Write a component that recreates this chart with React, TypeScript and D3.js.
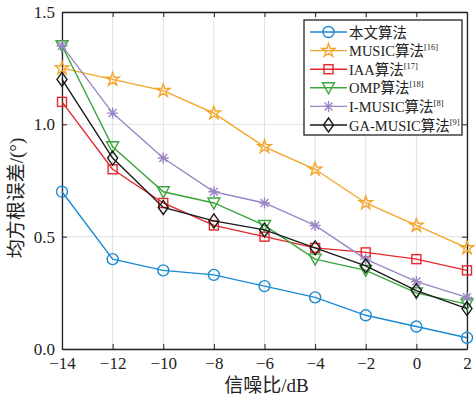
import React, { useEffect, useRef } from "react";
import * as d3 from "d3";

const snr = [-14, -12, -10, -8, -6, -4, -2, 0, 2];
const proposed = [0.7, 0.4, 0.35, 0.33, 0.28, 0.23, 0.15, 0.1, 0.05];
const music = [1.25, 1.2, 1.15, 1.05, 0.9, 0.8, 0.65, 0.55, 0.45];
const iaa = [1.1, 0.8, 0.65, 0.55, 0.5, 0.45, 0.43, 0.4, 0.35];
const omp = [1.35, 0.9, 0.7, 0.65, 0.55, 0.4, 0.35, 0.25, 0.2];
const iMusic = [1.35, 1.05, 0.85, 0.7, 0.65, 0.55, 0.4, 0.3, 0.23];
const gaMusic = [1.2, 0.85, 0.63, 0.57, 0.53, 0.45, 0.37, 0.26, 0.18];
const yTicks = [0, 0.5, 1.0, 1.5];

const series = [
  { name: "本文算法", ref: "", values: proposed, color: "#1b8ad3", marker: "circle" },
  { name: "MUSIC算法", ref: "[16]", values: music, color: "#f4a52a", marker: "star" },
  { name: "IAA算法", ref: "[17]", values: iaa, color: "#e5282d", marker: "square" },
  { name: "OMP算法", ref: "[18]", values: omp, color: "#3aa63a", marker: "triangle" },
  { name: "I-MUSIC算法", ref: "[8]", values: iMusic, color: "#9a86c6", marker: "asterisk" },
  { name: "GA-MUSIC算法", ref: "[9]", values: gaMusic, color: "#1a1a1a", marker: "diamond" },
];

const FONT = "'Liberation Serif', 'Noto Sans CJK SC', serif";

// draw one marker centred on (0,0) inside g
const drawMarker = (g, type, color) => {
  const common = (sel) => sel.attr("fill", "none").attr("stroke", color).attr("stroke-width", 1.4);
  if (type === "circle") {
    g.append("circle").attr("r", 5.5).call(common);
  } else if (type === "star") {
    g.append("path").attr("d", d3.symbol(d3.symbolStar, 55)()).call(common);
  } else if (type === "square") {
    g.append("rect").attr("x", -4.5).attr("y", -4.5).attr("width", 9).attr("height", 9).call(common);
  } else if (type === "triangle") {
    g.append("path").attr("d", "M-6,-5L6,-5L0,6Z").call(common);
  } else if (type === "asterisk") {
    g.append("path").attr("d", "M-5.5,0H5.5M0,-5.5V5.5M-4,-4L4,4M-4,4L4,-4").call(common);
  } else if (type === "diamond") {
    g.append("path").attr("d", "M0,-7L5,0L0,7L-5,0Z").call(common);
  }
};

export default function App() {
  const svgRef = useRef(null);
  const width = 475;
  const height = 396;
  const margin = { top: 12, right: 8, bottom: 47, left: 62 };

  useEffect(() => {
    const svg = d3.select(svgRef.current);
    svg.selectAll("*").remove();

    const x = d3.scaleLinear().domain([-14, 2]).range([margin.left, width - margin.right]);
    const y = d3.scaleLinear().domain([0, 1.5]).range([height - margin.bottom, margin.top]);
    const [x0, x1] = x.range();
    const [y0, y1] = y.range();

    svg.append("rect").attr("width", width).attr("height", height).attr("fill", "#fff");

    // grid
    svg.append("g")
      .selectAll("line")
      .data(snr)
      .enter()
      .append("line")
      .attr("x1", (d) => x(d)).attr("x2", (d) => x(d))
      .attr("y1", y0).attr("y2", y1)
      .attr("stroke", "#e1e1e1").attr("stroke-width", 1);
    svg.append("g")
      .selectAll("line")
      .data(yTicks)
      .enter()
      .append("line")
      .attr("x1", x0).attr("x2", x1)
      .attr("y1", (d) => y(d)).attr("y2", (d) => y(d))
      .attr("stroke", "#e1e1e1").attr("stroke-width", 1);

    // axes with inward ticks
    const bottom = svg.append("g").attr("transform", `translate(0,${y0})`)
      .call(d3.axisBottom(x).tickValues(snr).tickSize(-5).tickSizeOuter(0).tickPadding(8).tickFormat(d3.format("d")));
    const top = svg.append("g").attr("transform", `translate(0,${y1})`)
      .call(d3.axisTop(x).tickValues(snr).tickSize(-5).tickSizeOuter(0).tickFormat(() => ""));
    const left = svg.append("g").attr("transform", `translate(${x0},0)`)
      .call(d3.axisLeft(y).tickValues(yTicks).tickSize(-5).tickSizeOuter(0).tickPadding(7).tickFormat(d3.format(".1f")));
    const right = svg.append("g").attr("transform", `translate(${x1},0)`)
      .call(d3.axisRight(y).tickValues(yTicks).tickSize(-5).tickSizeOuter(0).tickFormat(() => ""));
    [bottom, top, left, right].forEach((a) => {
      a.selectAll(".domain").attr("stroke", "#222").attr("stroke-width", 1.3);
      a.selectAll(".tick line").attr("stroke", "#222");
      a.selectAll("text").attr("fill", "#222").style("font-family", FONT).style("font-size", "17px");
    });

    // lines and markers
    const line = d3.line().x((d, i) => x(snr[i])).y((d) => y(d));
    series.forEach((s) => {
      svg.append("path")
        .datum(s.values)
        .attr("fill", "none")
        .attr("stroke", s.color)
        .attr("stroke-width", 1.4)
        .attr("d", line);
      s.values.forEach((v, i) => {
        const g = svg.append("g").attr("transform", `translate(${x(snr[i])},${y(v)})`);
        drawMarker(g, s.marker, s.color);
      });
    });

    // legend
    const lg = svg.append("g").attr("transform", "translate(304,20)");
    lg.append("rect").attr("width", 158).attr("height", 115).attr("fill", "#fff").attr("stroke", "#222").attr("stroke-width", 1.3);
    series.forEach((s, i) => {
      const row = lg.append("g").attr("transform", `translate(0,${12 + i * 18.6})`);
      row.append("line").attr("x1", 6).attr("x2", 43).attr("stroke", s.color).attr("stroke-width", 1.4);
      drawMarker(row.append("g").attr("transform", "translate(24.5,0)"), s.marker, s.color);
      const t = row.append("text")
        .attr("x", 45).attr("y", 5.5)
        .attr("fill", "#222")
        .style("font-family", FONT)
        .style("font-size", "14.5px")
        .text(s.name);
      if (s.ref) {
        t.append("tspan").attr("dy", -6).style("font-size", "8.5px").text(s.ref);
      }
    });

    // axis titles
    svg.append("text")
      .attr("x", (x0 + x1) / 2 + 2).attr("y", 392)
      .attr("text-anchor", "middle")
      .attr("fill", "#222")
      .style("font-family", FONT).style("font-size", "19px")
      .text("信噪比/dB");
    svg.append("text")
      .attr("transform", "translate(23,198) rotate(-90)")
      .attr("text-anchor", "middle")
      .attr("fill", "#222")
      .style("font-family", FONT).style("font-size", "19px")
      .text("均方根误差/(°)");
  }, []);

  return (
    <svg ref={svgRef} width={width} height={height}
      style={{ position: "absolute", left: 0, top: 0, display: "block" }} />
  );
}
